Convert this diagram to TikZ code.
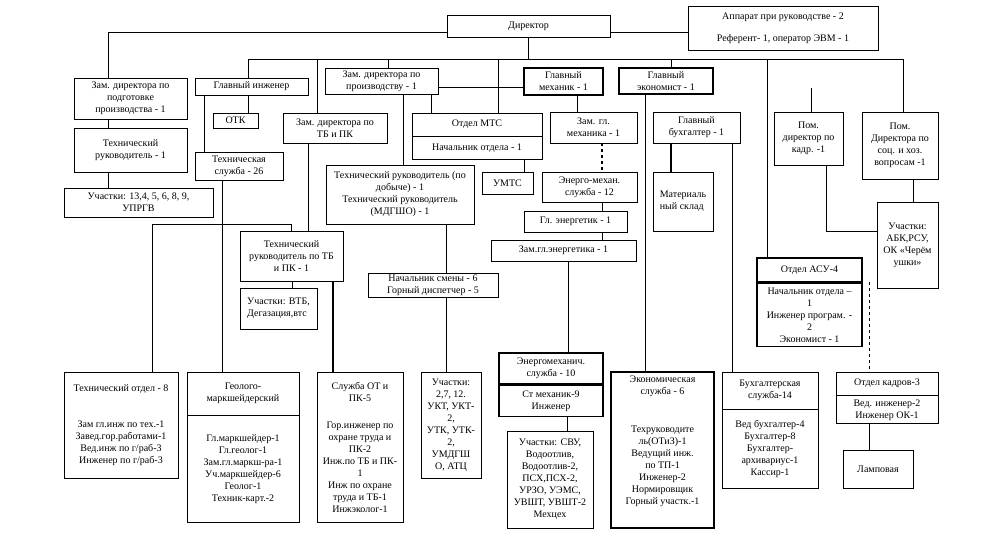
\documentclass[tikz,border=0pt]{standalone}
\usepackage{fontspec}
\setmainfont{Liberation Serif}
\usetikzlibrary{positioning}

\begin{document}
\begin{tikzpicture}[x=1pt,y=-1pt,
		unit/.style={draw,line width=0.8pt,align=center,inner sep=1.5pt,font=\fontsize{10}{12}\selectfont},
		keyunit/.style={unit,line width=1.6pt},
		link/.style={line width=0.8pt},
		thicklink/.style={line width=1.6pt}]
		\useasboundingbox (0,0) rectangle (983,553);
		
		% top level
		\node[unit,minimum width=163pt,minimum height=22pt] (dir) at (528.5,26) {Директор};
		\node[unit,minimum width=190pt,minimum height=44pt] (app) at (783,28) {Аппарат при руководстве - 2\\[10pt]Референт- 1, оператор ЭВМ - 1};
		\coordinate (busL) at (248,59);
		\coordinate (busR) at (903,59);
		
		% left branch
		\node[unit,minimum width=113pt,minimum height=41pt] (zpp) at (130.5,98.5) {Зам. директора по\\подготовке\\производства - 1};
		\node[unit,minimum width=113pt,minimum height=44pt] (tr1) at (130.5,150) {Технический\\руководитель - 1};
		\node[unit,minimum width=149pt,minimum height=29pt] (uch1) at (138.5,202.5) {Участки: 13,4, 5, 6, 8, 9,\\УПРГВ};
		
		% chief engineer
		\node[unit,minimum width=113pt,minimum height=17pt] (gi) at (251.5,86.5) {Главный инженер};
		\node[unit,minimum width=45pt,minimum height=15pt] (otk) at (235.5,120.5) {ОТК};
		\node[unit,minimum width=88pt,minimum height=28pt] (ts) at (239,166) {Техническая\\служба - 26};
		\node[unit,minimum width=104pt,minimum height=30pt] (ztb) at (335,128) {Зам. директора по\\ТБ и ПК};
		\node[unit,minimum width=103pt,minimum height=50pt] (trtb) at (291.5,256) {Технический\\руководитель по ТБ\\и ПК - 1};
		\node[unit,align=left,minimum width=77pt,minimum height=41pt] (uvtb) at (278.5,308.5) {Участки: ВТБ,\\Дегазация,втс};
		\coordinate (tdrop) at (152,224);
		
		% production
		\node[unit,minimum width=113pt,minimum height=26pt] (zpr) at (381.5,81) {Зам. директора по\\производству - 1};
		\node[unit,minimum width=130pt,minimum height=23pt] (mts) at (477,124.5) {Отдел МТС};
		\node[unit,minimum width=130pt,minimum height=23pt,below=0pt of mts] (mtsb) {Начальник отдела - 1};
		\node[unit,minimum width=51pt,minimum height=22pt] (umts) at (507.5,183) {УМТС};
		\node[unit,minimum width=148pt,minimum height=59pt] (tdob) at (400,194.5) {Технический руководитель (по\\добыче) - 1\\Технический руководитель\\(МДГШО) - 1};
		\node[unit,minimum width=130pt,minimum height=23pt] (nsm) at (433,285.5) {Начальник смены - 6\\Горный диспетчер - 5};
		
		% chief mechanic
		\node[keyunit,minimum width=79pt,minimum height=27pt] (gm) at (563.5,81.5) {Главный\\механик - 1};
		\node[unit,minimum width=87pt,minimum height=31pt] (zgm) at (593.5,127.5) {Зам. гл.\\механика - 1};
		\node[unit,minimum width=95pt,minimum height=30pt] (ems) at (589.5,187) {Энерго-механ.\\служба - 12};
		\node[unit,minimum width=103pt,minimum height=21pt] (gen) at (575.5,221.5) {Гл. энергетик - 1};
		\node[unit,minimum width=145pt,minimum height=21pt] (zgen) at (563.5,250.5) {Зам.гл.энергетика - 1};
		
		% chief economist
		\node[keyunit,minimum width=94pt,minimum height=26pt] (ge) at (666,81) {Главный\\экономист - 1};
		\node[unit,minimum width=87pt,minimum height=31pt] (gb) at (696.5,127.5) {Главный\\бухгалтер - 1};
		\node[unit,align=left,minimum width=60pt,minimum height=59pt] (ms) at (683,201.5) {Материаль\\ный склад};
		
		% assistants
		\node[unit,minimum width=69pt,minimum height=53pt] (pk) at (808.5,138.5) {Пом.\\директор по\\кадр. -1};
		\node[unit,minimum width=76pt,minimum height=67pt] (ps) at (900,145.5) {Пом.\\Директора по\\соц. и хоз.\\вопросам -1};
		\node[unit,minimum width=61pt,minimum height=86pt] (uabk) at (907.5,245) {Участки:\\АБК,РСУ,\\ОК «Черём\\ушки»};
		\node[keyunit,minimum width=105pt,minimum height=24pt] (asu) at (809.5,270) {Отдел АСУ-4};
		\node[keyunit,minimum width=105pt,minimum height=63pt,below=0pt of asu] (asub) {Начальник отдела –\\1\\Инженер програм. -\\2\\Экономист - 1};
		\coordinate (pkstub) at (811,88);
		\coordinate (okstub) at (869,282);
		
		% bottom row
		\node[unit,minimum width=114pt,minimum height=106pt] (to) at (121,425) {Технический отдел - 8\\[24pt]Зам гл.инж по тех.-1\\Завед.гор.работами-1\\Вед.инж по г/раб-3\\Инженер по г/раб-3};
		\node[unit,minimum width=112pt,minimum height=43pt] (gmk) at (243,393.5) {Геолого-\\маркшейдерский};
		\node[unit,minimum width=112pt,minimum height=107pt,below=0pt of gmk] (gmkb) {Гл.маркшейдер-1\\Гл.геолог-1\\Зам.гл.маркш-ра-1\\Уч.маркшейдер-6\\Геолог-1\\Техник-карт.-2};
		\node[unit,minimum width=86pt,minimum height=150pt] (sot) at (360,447) {Служба ОТ и\\ПК-5\\[15pt]Гор.инженер по\\охране труда и\\ПК-2\\Инж.по ТБ и ПК-\\1\\Инж по охране\\труда и ТБ-1\\Инжэколог-1};
		\node[unit,minimum width=60pt,minimum height=106pt] (u27) at (451,425) {Участки:\\2,7, 12.\\УКТ, УКТ-\\2,\\УТК, УТК-\\2,\\УМДГШ\\О, АТЦ};
		\node[keyunit,minimum width=104pt,minimum height=31pt] (emsl) at (551,368.5) {Энергомеханич.\\служба - 10};
		\node[keyunit,minimum width=104pt,minimum height=31pt,below=0pt of emsl] (emslb) {Ст механик-9\\Инженер};
		\node[unit,minimum width=86pt,minimum height=97pt] (usvu) at (550,479.5) {Участки: СВУ,\\Водоотлив,\\Водоотлив-2,\\ПСХ,ПСХ-2,\\УРЗО, УЭМС,\\УВШТ, УВШТ-2\\Мехцех};
		\node[keyunit,minimum width=103pt,minimum height=156pt] (ek) at (662.5,450) {Экономическая\\служба - 6\\[26pt]Техруководите\\ль(ОТиЗ)-1\\Ведущий инж.\\по ТП-1\\Инженер-2\\Нормировщик\\Горный участк.-1\\[8pt]\mbox{}};
		\node[unit,minimum width=96pt,minimum height=37pt] (bs) at (770,390.5) {Бухгалтерская\\служба-14};
		\node[unit,minimum width=96pt,minimum height=79pt,below=0pt of bs] (bsb) {Вед бухгалтер-4\\Бухгалтер-8\\Бухгалтер-\\архивариус-1\\Кассир-1};
		\node[unit,minimum width=102pt,minimum height=23pt] (ok) at (887,383.5) {Отдел кадров-3};
		\node[unit,minimum width=102pt,minimum height=28pt,below=0pt of ok] (okb) {Вед. инженер-2\\Инженер ОК-1};
		\node[unit,minimum width=70pt,minimum height=38pt] (lamp) at (878,469) {Ламповая};
		
		% director links
		\draw[link] ([yshift=-6pt]dir.west) -| ([xshift=-22.5pt]zpp.north);
		\draw[link] ([yshift=-6pt]dir.east) -- ([yshift=-6pt]dir.east -| app.west);
		\draw[link] (dir.south) -- (dir.south |- busL);
		\draw[link] (busL) -- (busR);
		\draw[link] (busL) -- (busL |- gi.north);
		\draw[link] ([xshift=-18pt]ztb.north) -- ([xshift=-18pt]ztb.north |- busL);
		\draw[link] ([xshift=6.5pt]zpr.north) -- ([xshift=6.5pt]zpr.north |- busL);
		\draw[link] ([xshift=21pt]mts.north) -- ([xshift=21pt]mts.north |- busL);
		\draw[link] ([xshift=5pt]ge.north) -- ([xshift=5pt]ge.north |- busL);
		\draw[link] ([xshift=-42.5pt]asu.north) -- ([xshift=-42.5pt]asu.north |- busL);
		\draw[link] ([xshift=3pt]ps.north) -- (busR);
		
		% left branch links
		\draw[link] ([xshift=-22.5pt]zpp.south) -- ([xshift=-22.5pt]tr1.north);
		\draw[link] ([xshift=-22.5pt]tr1.south) -- ([xshift=-22.5pt]tr1.south |- uch1.north);
		
		% chief engineer links
		\draw[link] ([xshift=-35pt]ts.north) -- ([xshift=-35pt]ts.north |- gi.south);
		\draw[link] ([xshift=12.5pt]otk.north) -- ([xshift=12.5pt]otk.north |- gi.south);
		\draw[link] ([xshift=-21pt]gmk.north) -- ([xshift=-21pt]gmk.north |- ts.south);
		\draw[link] ([xshift=16.5pt]trtb.north) -- ([xshift=16.5pt]trtb.north |- ztb.south);
		\draw[link] (trtb.north) |- (tdrop) -- (tdrop |- to.north);
		\draw[link] ([xshift=13.5pt]uvtb.north) -- ([xshift=13.5pt]uvtb.north |- trtb.south);
		\draw[thicklink] ([xshift=-27pt]sot.north) -- ([xshift=-27pt]sot.north |- trtb.south);
		
		% production links
		\draw[link] ([yshift=-6pt]zpr.east) -- ([yshift=-6pt]zpr.east -| gm.west);
		\draw[link] ([xshift=49.5pt]zpr.south) -- ([xshift=49.5pt]zpr.south |- mts.north);
		\draw[link] ([xshift=21.5pt]zpr.south) -- ([xshift=21.5pt]zpr.south |- tdob.north);
		\draw[link] ([xshift=16.5pt]umts.north) -- ([xshift=16.5pt]umts.north |- mtsb.south);
		\draw[link] ([xshift=13pt]nsm.north) -- ([xshift=13pt]nsm.north |- tdob.south);
		\draw[link] ([xshift=-5pt]u27.north) -- ([xshift=-5pt]u27.north |- nsm.south);
		
		% chief mechanic links
		\draw[link] ([xshift=-16.5pt]zgm.north) -- ([xshift=-16.5pt]zgm.north |- gm.south);
		\draw[thicklink,dashed] ([xshift=8.5pt]zgm.south) -- ([xshift=8.5pt]zgm.south |- ems.north);
		\draw[link] ([xshift=12.5pt]ems.south) -- ([xshift=12.5pt]ems.south |- gen.north);
		\draw[link] ([xshift=26.5pt]gen.south) -- ([xshift=26.5pt]gen.south |- zgen.north);
		\draw[link] ([xshift=4.5pt]zgen.south) -- ([xshift=4.5pt]zgen.south |- emsl.north);
		\draw[link] ([xshift=17pt]usvu.north) -- ([xshift=17pt]usvu.north |- emslb.south);
		
		% economist links
		\draw[link] ([xshift=-17.5pt]ek.north) -- ([xshift=-17.5pt]ek.north |- ge.south);
		\draw[thicklink] ([xshift=-12pt]ms.north) -- ([xshift=-12pt]ms.north |- gb.south);
		\draw[link] ([xshift=-38pt]bs.north) -- ([xshift=-38pt]bs.north |- gb.south);
		
		% assistants links
		\draw[link] (pkstub) -- (pkstub |- pk.north);
		\draw[link] ([xshift=17.5pt]pk.south) |- ([yshift=14pt]uabk.west);
		\draw[link] ([xshift=5.5pt]uabk.north) -- ([xshift=5.5pt]uabk.north |- ps.south);
		\draw[link,dashed] (okstub) -- (okstub |- ok.north);
		\draw[link] ([xshift=-9pt]lamp.north) -- ([xshift=-9pt]lamp.north |- okb.south);
	\end{tikzpicture}
\end{document}
